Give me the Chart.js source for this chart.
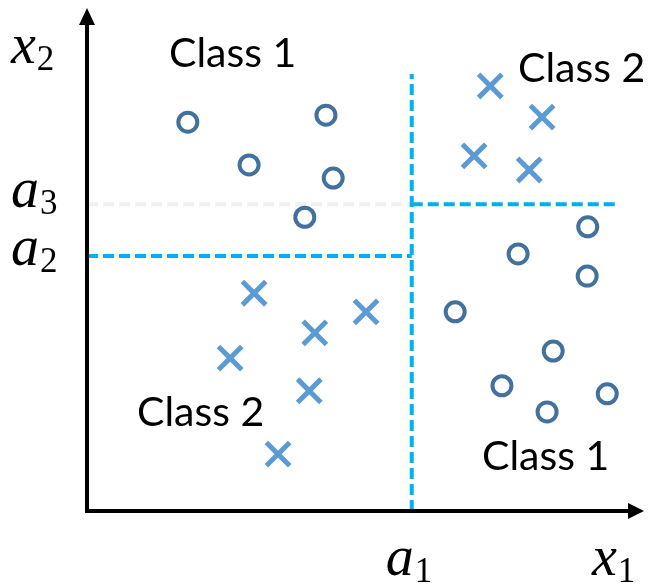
<!DOCTYPE html>
<html>
<head>
<meta charset="utf-8">
<script src="https://cdn.jsdelivr.net/npm/chart.js@4.4.1/dist/chart.umd.min.js"></script>
<style>
  html, body { margin: 0; padding: 0; background: #ffffff; }
  #wrap { width: 652px; height: 587px; position: relative; }
</style>
</head>
<body>
<div id="wrap"><canvas id="c"></canvas></div>
<script>
// ---- Data (axis units 0..100) ----
const class1X = [18.1, 29.1, 42.9, 44.2, 39.1, 89.9, 77.4, 89.8, 66.1, 83.7, 74.5, 82.6, 93.4];
const class1Y = [77.3, 68.8, 78.7, 66.2, 58.4, 56.5, 51.1, 46.7, 39.6, 31.8, 24.9, 19.7, 23.3];
const class2X = [72.4, 81.7, 69.5, 79.4, 30.0, 40.9, 50.1, 25.7, 39.9, 34.3];
const class2Y = [84.5, 78.3, 70.6, 67.8, 43.3, 35.4, 39.6, 30.4, 23.9, 11.3];
// split thresholds
const a1 = 58.3;
const a2 = 50.7;
const a3 = 61.0;
const a1Top = 86.9;     // top end of the vertical split line
const a3Right = 95.2;   // right end of the a3 split line
const tickLabels = { a1: ['a', '1'], a2: ['a', '2'], a3: ['a', '3'] };
const axisLabels = { x: ['x', '1'], y: ['x', '2'] };
const regionLabels = ['Class 1', 'Class 2', 'Class 2', 'Class 1'];

const pts = (xs, ys) => xs.map((x, i) => ({ x: x, y: ys[i] }));

const overlay = {
  id: 'overlay',
  afterDraw(chart) {
    const ctx = chart.ctx;
    const xs = chart.scales.x, ys = chart.scales.y;
    const X0 = xs.getPixelForValue(0), Y0 = ys.getPixelForValue(0);
    const X1 = xs.getPixelForValue(100), Y1 = ys.getPixelForValue(100);
    ctx.save();
    // axes
    ctx.strokeStyle = '#000'; ctx.fillStyle = '#000'; ctx.lineWidth = 4;
    ctx.lineCap = 'butt';
    ctx.beginPath();
    ctx.moveTo(X0, Y0 + 2); ctx.lineTo(X0, Y1 + 16);
    ctx.moveTo(X0 - 2, Y0); ctx.lineTo(X1 - 15, Y0);
    ctx.stroke();
    ctx.beginPath();
    ctx.moveTo(X0, Y1); ctx.lineTo(X0 - 8, Y1 + 17); ctx.lineTo(X0 + 8, Y1 + 17); ctx.closePath();
    ctx.moveTo(X1, Y0); ctx.lineTo(X1 - 16, Y0 - 8); ctx.lineTo(X1 - 16, Y0 + 8); ctx.closePath();
    ctx.fill();

    // math labels
    const mathLabel = (parts, x, baseline) => {
      ctx.textBaseline = 'alphabetic'; ctx.textAlign = 'left';
      ctx.font = 'italic 56px "Liberation Serif"';
      ctx.fillText(parts[0], x, baseline);
      const w = ctx.measureText(parts[0]).width;
      ctx.font = '35px "Liberation Serif"';
      ctx.fillText(parts[1], x + w + 1, baseline + 7);
    };
    mathLabel(axisLabels.y, 11, 63);
    mathLabel(tickLabels.a3, 11, ys.getPixelForValue(a3) + 3);
    mathLabel(tickLabels.a2, 11, ys.getPixelForValue(a2) + 9);
    mathLabel(tickLabels.a1, xs.getPixelForValue(a1) - 26, 575);
    mathLabel(axisLabels.x, 592, 575);

    // region labels
    ctx.font = '41px Lato';
    ctx.textAlign = 'left';
    ctx.fillText(regionLabels[0], 169, 67);
    ctx.fillText(regionLabels[1], 518, 82);
    ctx.fillText(regionLabels[2], 137, 426);
    ctx.fillText(regionLabels[3], 482, 470);
    ctx.restore();
  }
};

const dash = { borderWidth: 4, borderDash: [11, 5], pointRadius: 0, showLine: true, fill: false, type: 'line' };

new Chart(document.getElementById('c'), {
  type: 'scatter',
  data: {
    datasets: [
      { label: 'Class 1', data: pts(class1X, class1Y), pointStyle: 'circle', pointRadius: 9.5, pointBorderWidth: 4,
        borderColor: '#41719C', backgroundColor: 'rgba(255,255,255,0)', pointHoverRadius: 9.5 },
      { label: 'Class 2', data: pts(class2X, class2Y), pointStyle: 'crossRot', pointRadius: 16.5, pointBorderWidth: 5,
        borderColor: '#5B9BD5', backgroundColor: '#5B9BD5', pointHoverRadius: 16.5 },
      Object.assign({ label: 'a1', data: [{ x: a1, y: 0 }, { x: a1, y: a1Top }], borderColor: '#00B0F0' }, dash),
      Object.assign({ label: 'a2', data: [{ x: 0, y: a2 }, { x: a1, y: a2 }], borderColor: '#00B0F0' }, dash),
      Object.assign({ label: 'a3r', data: [{ x: a1, y: a3 }, { x: a3Right, y: a3 }], borderColor: '#00B0F0' }, dash),
      Object.assign({ label: 'a3l', data: [{ x: 0, y: a3 }, { x: a1, y: a3 }], borderColor: '#EFEFEF' }, dash)
    ]
  },
  options: {
    responsive: true,
    maintainAspectRatio: false,
    animation: false,
    clip: false,
    layout: { autoPadding: false, padding: { left: 87, right: 8, top: 8, bottom: 76 } },
    plugins: { legend: { display: false }, tooltip: { enabled: false } },
    scales: {
      x: { type: 'linear', min: 0, max: 100, display: false },
      y: { type: 'linear', min: 0, max: 100, display: false }
    }
  },
  plugins: [overlay]
});
</script>
</body>
</html>
